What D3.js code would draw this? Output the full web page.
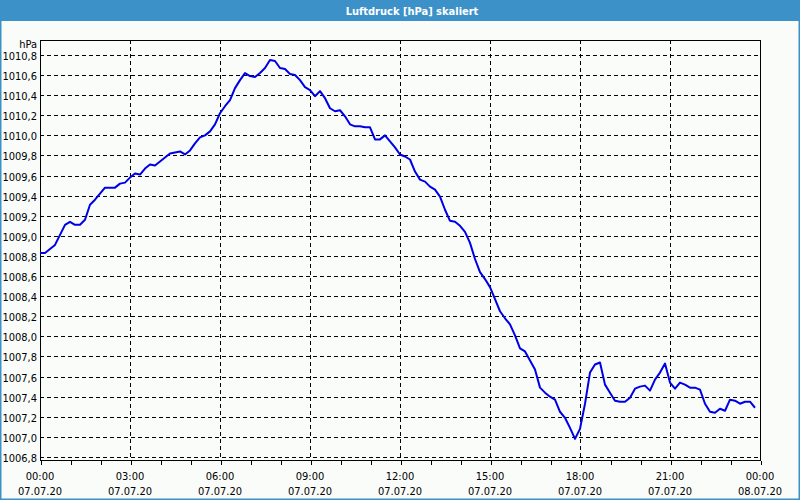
<!DOCTYPE html>
<html><head><meta charset="utf-8">
<script src="https://cdn.jsdelivr.net/npm/d3@7"></script>
<style>
html,body{margin:0;padding:0;background:#fafcfa;}
svg{display:block;}
text{font-family:"DejaVu Sans Condensed","DejaVu Sans",sans-serif;}
</style></head>
<body>
<script>
const title = "Luftdruck [hPa] skaliert";
const unitLabel = "hPa";
const startTime = "2020-07-07T00:00:00";
const stepMinutes = 10;
// pressure readings every 10 minutes, 00:00 .. 23:50
const pressure = [
1008.83,1008.83,1008.87,1008.91,1009.01,1009.11,1009.14,1009.11,1009.11,1009.16,
1009.31,1009.36,1009.42,1009.48,1009.48,1009.48,1009.52,1009.53,1009.58,1009.62,
1009.61,1009.67,1009.71,1009.70,1009.74,1009.78,1009.82,1009.83,1009.84,1009.81,
1009.85,1009.92,1009.98,1010.00,1010.04,1010.11,1010.22,1010.29,1010.35,1010.47,
1010.55,1010.62,1010.59,1010.58,1010.62,1010.67,1010.75,1010.74,1010.67,1010.66,
1010.61,1010.60,1010.55,1010.48,1010.45,1010.39,1010.44,1010.37,1010.27,1010.24,
1010.25,1010.19,1010.11,1010.09,1010.09,1010.08,1010.08,1009.96,1009.96,1010.00,
1009.94,1009.88,1009.81,1009.79,1009.76,1009.64,1009.56,1009.54,1009.49,1009.46,
1009.39,1009.26,1009.15,1009.14,1009.10,1009.04,1008.93,1008.77,1008.64,1008.57,
1008.49,1008.37,1008.25,1008.18,1008.12,1008.01,1007.88,1007.85,1007.76,1007.67,
1007.49,1007.44,1007.40,1007.37,1007.25,1007.19,1007.09,1006.98,1007.08,1007.33,
1007.64,1007.72,1007.74,1007.52,1007.44,1007.36,1007.35,1007.35,1007.39,1007.48,
1007.50,1007.51,1007.46,1007.57,1007.64,1007.73,1007.54,1007.48,1007.54,1007.52,
1007.49,1007.49,1007.47,1007.33,1007.25,1007.24,1007.28,1007.26,1007.37,1007.36,
1007.33,1007.35,1007.35,1007.29
];
const yTicks = [1006.8,1007.0,1007.2,1007.4,1007.6,1007.8,1008.0,1008.2,1008.4,1008.6,1008.8,1009.0,1009.2,1009.4,1009.6,1009.8,1010.0,1010.2,1010.4,1010.6,1010.8];
const xDomain = ["2020-07-07T00:00:00","2020-07-08T00:00:00"];
const yDomain = [1006.77, 1010.949];

const W = 800, H = 500;
const m = {left:40, right:40, top:40, bottom:40};
const svg = d3.select("body").append("svg").attr("width",W).attr("height",H);

svg.append("rect").attr("x",0).attr("y",0).attr("width",W).attr("height",H).attr("fill","#fafcfa");
// window frame
svg.append("rect").attr("x",0).attr("y",0).attr("width",W).attr("height",21).attr("fill","#3c91c8");
svg.append("rect").attr("x",0.5).attr("y",0.5).attr("width",W-1).attr("height",H-1).attr("fill","none").attr("stroke","#3c91c8").attr("stroke-width",2);
svg.append("text").attr("x",412).attr("y",11).attr("text-anchor","middle").attr("dominant-baseline","central")
  .attr("fill","#ffffff").attr("font-weight","bold").attr("font-size","11px").text(title);

const parse = d3.isoParse;
const t0 = parse(startTime);
const data = pressure.map((v,i)=>({t:new Date(t0.getTime()+i*stepMinutes*60000), v}));

const x = d3.scaleTime().domain(xDomain.map(parse)).range([m.left, W-m.right]);
const y = d3.scaleLinear().domain(yDomain).range([H-m.bottom, m.top]);

// horizontal grid
svg.append("g").selectAll("line").data(yTicks).join("line")
  .attr("x1",m.left).attr("x2",W-m.right)
  .attr("y1",d=>Math.round(y(d))+0.5).attr("y2",d=>Math.round(y(d))+0.5)
  .attr("stroke","#000").attr("stroke-dasharray","4,3").attr("shape-rendering","crispEdges");
// vertical grid every 3 hours
const vt = x.ticks(d3.timeHour.every(3)).filter(d=>x(d)>m.left+1 && x(d)<W-m.right-1);
svg.append("g").selectAll("line").data(vt).join("line")
  .attr("x1",d=>Math.round(x(d))+0.5).attr("x2",d=>Math.round(x(d))+0.5)
  .attr("y1",m.top).attr("y2",H-m.bottom)
  .attr("stroke","#000").attr("stroke-dasharray","4,3").attr("shape-rendering","crispEdges");

// x axis with hourly ticks
const xAxis = d3.axisBottom(x).ticks(d3.timeHour.every(1)).tickSize(4).tickFormat("");
const gx = svg.append("g").attr("transform",`translate(0.5,${H-m.bottom+0.5})`).call(xAxis);
gx.select(".domain").remove();
gx.selectAll("line").attr("stroke","#000").attr("shape-rendering","crispEdges");

// x labels
const xl = x.ticks(d3.timeHour.every(3));
const fT = d3.timeFormat("%H:%M"), fD = d3.timeFormat("%d.%m.%y");
const lab = svg.append("g");
lab.selectAll("text.t").data(xl).join("text").attr("class","t")
  .attr("x",d=>x(d)).attr("y",476).attr("text-anchor","middle").attr("dominant-baseline","central")
  .attr("font-size","11px").attr("fill","#000").text(fT);
lab.selectAll("text.d").data(xl).join("text").attr("class","d")
  .attr("x",d=>x(d)).attr("y",491).attr("text-anchor","middle").attr("dominant-baseline","central")
  .attr("font-size","11px").attr("fill","#000").text(fD);

// y labels
const fmt = d=>d3.format(".1f")(d).replace(".",",");
svg.append("g").selectAll("text").data(yTicks).join("text")
  .attr("x",37).attr("y",d=>y(d)+1.5).attr("text-anchor","end").attr("dominant-baseline","central")
  .attr("font-size","11px").attr("fill","#000").text(fmt);
svg.append("text").attr("x",37).attr("y",44).attr("text-anchor","end").attr("dominant-baseline","central")
  .attr("font-size","11px").attr("fill","#000").text(unitLabel);

// plot frame
svg.append("rect").attr("x",m.left+0.5).attr("y",m.top+0.5).attr("width",W-m.left-m.right).attr("height",H-m.top-m.bottom)
  .attr("fill","none").attr("stroke","#000").attr("stroke-width",1).attr("shape-rendering","crispEdges");

// line
const line = d3.line().x(d=>x(d.t)).y(d=>y(d.v));
svg.append("path").datum(data).attr("d",line).attr("fill","none").attr("stroke","#0000e6").attr("stroke-width",2).attr("stroke-linejoin","round");
</script>
</body></html>
